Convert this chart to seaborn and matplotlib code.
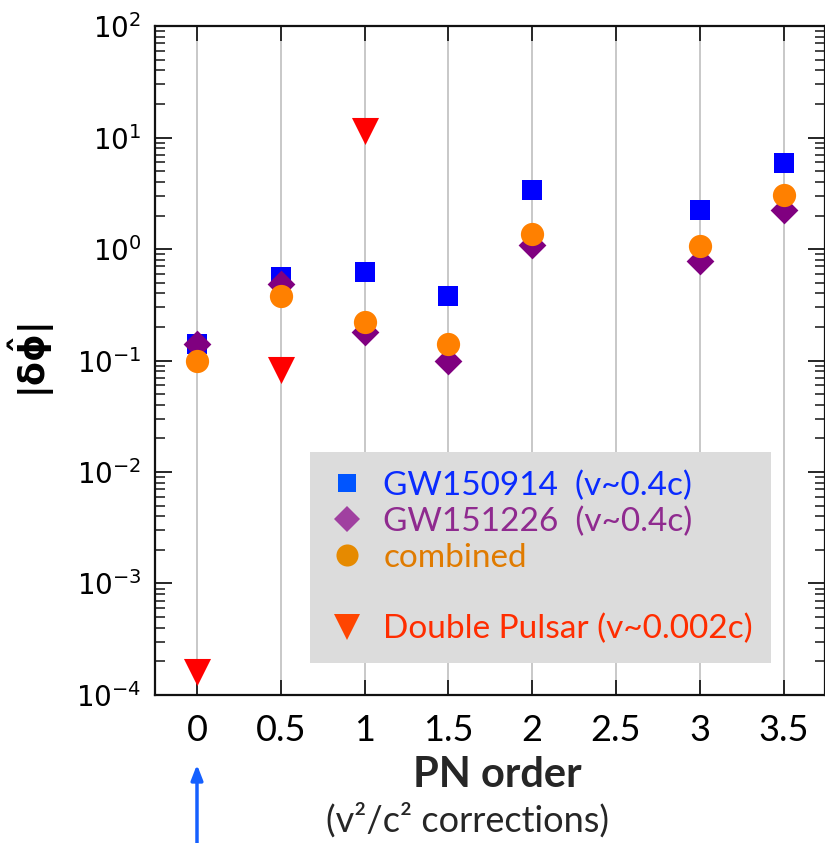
import pandas as pd
import seaborn as sns
import matplotlib.pyplot as plt
from matplotlib.lines import Line2D

# PN orders and |delta phi| bounds
pn_gw = [0, 0.5, 1, 1.5, 2, 3, 3.5]
gw150914 = [0.14, 0.56, 0.62, 0.38, 3.4, 2.24, 5.9]
gw151226 = [0.14, 0.49, 0.18, 0.10, 1.09, 0.78, 2.24]
combined = [0.10, 0.38, 0.22, 0.14, 1.36, 1.06, 3.05]

pn_psr = [0, 0.5, 1]
double_pulsar = [1.6e-4, 0.082, 11.5]

x_ticks = [0, 0.5, 1, 1.5, 2, 2.5, 3, 3.5]
x_ticklabels = ['0', '0.5', '1', '1.5', '2', '2.5', '3', '3.5']

series = [
    # name, x, y, marker, plot colour, size, legend marker colour, legend text colour
    ('GW150914  (v~0.4c)', pn_gw, gw150914, 's', '#0000ff', 200, '#0055ff', '#0a2bff'),
    ('GW151226  (v~0.4c)', pn_gw, gw151226, 'D', '#800080', 200, '#a040a0', '#8f2a8f'),
    ('combined', pn_gw, combined, 'o', '#ff8000', 280, '#e68a00', '#e07b00'),
    ('Double Pulsar (v~0.002c)', pn_psr, double_pulsar, 'v', '#ff0000', 380, '#ff4500', '#ff2d00'),
]

sns.set_style('white')
plt.rcParams['font.family'] = ['DejaVu Sans']

fig = plt.figure(figsize=(8.25, 8.43), dpi=100)
ax = fig.add_axes([0.188, 0.1756, 0.8125, 0.7934])

for name, xs, ys, mk, col, s, _, _ in series:
    df = pd.DataFrame({'pn': xs, 'dphi': ys})
    sns.scatterplot(data=df, x='pn', y='dphi', marker=mk, color=col, s=s,
                    linewidth=0, ax=ax, zorder=3, legend=False)

ax.set_yscale('log')
ax.set_ylim(1e-4, 1e2)
ax.set_xlim(-0.25, 3.75)
ax.set_xticks(x_ticks)
ax.set_xticklabels(x_ticklabels, family='Lato', fontsize=26)
ax.xaxis.grid(True, color='#c4c4c4', linewidth=1.3)
ax.yaxis.grid(False)

for sp in ax.spines.values():
    sp.set_linewidth(1.6)
    sp.set_color('#111111')

ax.tick_params(axis='x', which='major', direction='in', length=11, width=1.4,
               top=True, bottom=True, pad=14, labelcolor='black')
ax.tick_params(axis='y', which='major', direction='in', length=12, width=1.4,
               left=True, right=True, labelsize=20, pad=10, labelcolor='black')
ax.tick_params(axis='y', which='minor', direction='in', length=7, width=1.2,
               left=True, right=True)

ax.set_xlabel('')
ax.set_ylabel(r'$\mathbf{|\delta\hat{\phi}|}$', fontsize=25, labelpad=14,
              color='black')

# legend with an empty row before the pulsar entry
handles, labels, colors = [], [], []
for name, _, _, mk, _, s, lcol, tcol in series:
    if name.startswith('Double'):
        handles.append(Line2D([], [], linestyle='none', marker=None))
        labels.append(' ')
        colors.append('none')
    handles.append(Line2D([], [], linestyle='none', marker=mk, color=lcol,
                          markersize=s ** 0.5 * 0.95, markeredgewidth=0))
    labels.append(name)
    colors.append(tcol)

leg = ax.legend(handles, labels, loc='lower left', bbox_to_anchor=(0.231, 0.048),
                frameon=True, facecolor='#dcdcdc', edgecolor='none', framealpha=1,
                fancybox=False, prop={'family': 'Lato', 'size': 24},
                labelspacing=0.17, handletextpad=0.55, borderpad=0.55,
                borderaxespad=0, handlelength=1.1)
for txt, c in zip(leg.get_texts(), colors):
    txt.set_color(c)

fig.text(0.603, 0.0807, 'PN order', ha='center', va='center',
         fontsize=30, fontweight='bold', family='Lato')
fig.text(0.567, 0.027, '(v²/c² corrections)', ha='center', va='center',
         fontsize=26, family='Lato')

ax.annotate('', xy=(0, -0.1), xycoords=ax.get_xaxis_transform(),
            xytext=(0, -0.23), textcoords=ax.get_xaxis_transform(),
            annotation_clip=False,
            arrowprops=dict(arrowstyle='-|>,head_length=0.9,head_width=0.35',
                            color='#1560ff', linewidth=2.5))

fig.savefig('out.png', dpi=100)
